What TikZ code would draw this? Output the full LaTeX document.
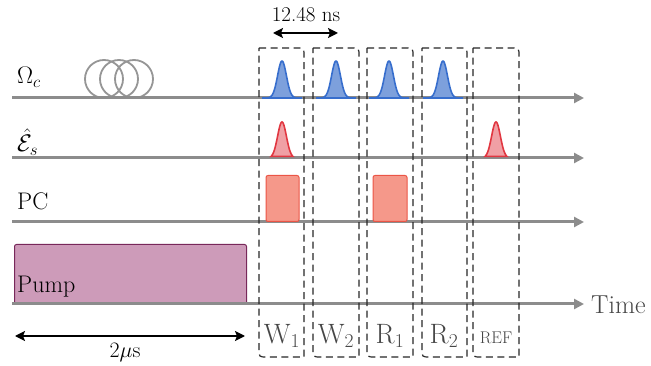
\documentclass[tikz,border=0pt]{standalone}
\usepackage{fix-cm}
\usepackage{fontspec}
\usetikzlibrary{arrows.meta}

\definecolor{axisgray}{RGB}{140,140,140}
\definecolor{fibergray}{RGB}{150,150,150}
\definecolor{slotlabel}{RGB}{70,70,70}
\definecolor{ctrlline}{RGB}{55,110,205}
\definecolor{ctrlfill}{RGB}{125,160,220}
\definecolor{sigline}{RGB}{225,55,65}
\definecolor{sigfill}{RGB}{240,160,165}
\definecolor{pcline}{RGB}{235,85,70}
\definecolor{pcfill}{RGB}{245,152,138}
\definecolor{pumpline}{RGB}{120,40,90}
\definecolor{pumpfill}{RGB}{205,155,185}

\tikzset{
  axis/.style={draw=axisgray, line width=3pt, -{Triangle[length=10pt,width=10pt]}},
  fiber/.style={draw=fibergray, line width=1.8pt},
  slot/.style={draw=black!85, line width=1.2pt, dash pattern=on 7pt off 4.5pt},
  ctrlpulse/.style={draw=ctrlline, fill=ctrlfill, line width=1.6pt},
  sigpulse/.style={draw=sigline, fill=sigfill, line width=1.6pt},
  pcgate/.style={draw=pcline, fill=pcfill, line width=1pt, rounded corners=2pt},
  pumpgate/.style={draw=pumpline, fill=pumpfill, line width=1pt, rounded corners=2pt},
  dimarrow/.style={draw=black, line width=1.6pt, {Stealth[length=10pt,width=10pt,inset=2pt]}-{Stealth[length=10pt,width=10pt,inset=2pt]}},
  chan/.style={anchor=base west, inner sep=0pt, font=\fontsize{24}{28}\selectfont},
  slottext/.style={anchor=base, inner sep=0pt, text=slotlabel, font=\fontsize{28}{32}\selectfont},
}

\begin{document}
\begin{tikzpicture}[x=1pt, y=-1pt]
\useasboundingbox (0,0) rectangle (651,366);

% pump pulse (drawn under its time axis)
\node[pumpgate, minimum width=232pt, minimum height=60pt, anchor=north west, inner sep=0pt] (pump) at (14,244) {};

% fibre delay loops on the control line
\draw[fiber] (104,79) circle[radius=19];
\draw[fiber] (119,79) circle[radius=19];
\draw[fiber] (134,79) circle[radius=19];

% time axes
\foreach \n/\y in {om/98, es/158, pc/222, pu/304} {
  \coordinate (\n-s) at (12,\y);
  \coordinate (\n-e) at (584,\y);
  \draw[axis] (\n-s) -- (\n-e);
}

% control pulses
\foreach \c in {282, 336, 389, 443} {
  \filldraw[ctrlpulse] plot[domain=-20:20, samples=80, smooth]
    ({\c+\x}, {98-37*exp(-(\x*\x)/(2*4.4*4.4))}) -- cycle;
}
% signal pulses
\foreach \c in {282, 496} {
  \filldraw[sigpulse] plot[domain=-11:11, samples=60, smooth]
    ({\c+\x}, {158-36*exp(-(\x*\x)/(2*4.4*4.4))}) -- cycle;
}

% Pockels cell gates
\node[pcgate, minimum width=33pt, minimum height=46pt, anchor=south, inner sep=0pt] (pc1) at (282.5,222) {};
\node[pcgate, minimum width=34pt, minimum height=46pt, anchor=south, inner sep=0pt] (pc2) at (390,222) {};

% time slots
\foreach \a/\b in {259/304, 313/359, 367/413, 422/467, 473/519} {
  \draw[slot] (\a,48) -- (\b-8,48) .. controls (\b,48) .. (\b,56)
    -- (\b,357) -- (\a+8,357) .. controls (\a,357) .. (\a,349) -- cycle;
}

% channel labels
\node[chan] (lom) at (17,84) {$\Omega_c$};
\node[chan] (les) at (17,152) {$\hat{\mathcal{E}}_s$};
\node[chan] (lpc) at (17,210) {PC};
\node[chan] (lpu) at (17,293) {Pump};
\node[anchor=base west, inner sep=0pt, text=slotlabel, font=\fontsize{26}{30}\selectfont] (ltime) at (591,313) {Time};

% slot labels
\node[slottext] (sw1) at (282,343) {W$_1$};
\node[slottext] (sw2) at (336,343) {W$_2$};
\node[slottext] (sr1) at (390,343) {R$_1$};
\node[slottext] (sr2) at (444,343) {R$_2$};
\node[anchor=base, inner sep=0pt, text=slotlabel, font=\fontsize{17}{19}\selectfont] (sref) at (496,343) {REF};

% durations
\coordinate (pa) at (273,33);
\coordinate (pb) at (338,33);
\draw[dimarrow] (pa) -- (pb);
\node[anchor=base, inner sep=0pt, font=\fontsize{21}{24}\selectfont] (lper) at (306,22) {12.48 ns};

\coordinate (ua) at (15,336);
\coordinate (ub) at (245,336);
\draw[dimarrow] (ua) -- (ub);
\node[anchor=base, inner sep=0pt, font=\fontsize{22}{24}\selectfont] (lpump) at (125,357) {2$\mu$s};
\end{tikzpicture}
\end{document}
